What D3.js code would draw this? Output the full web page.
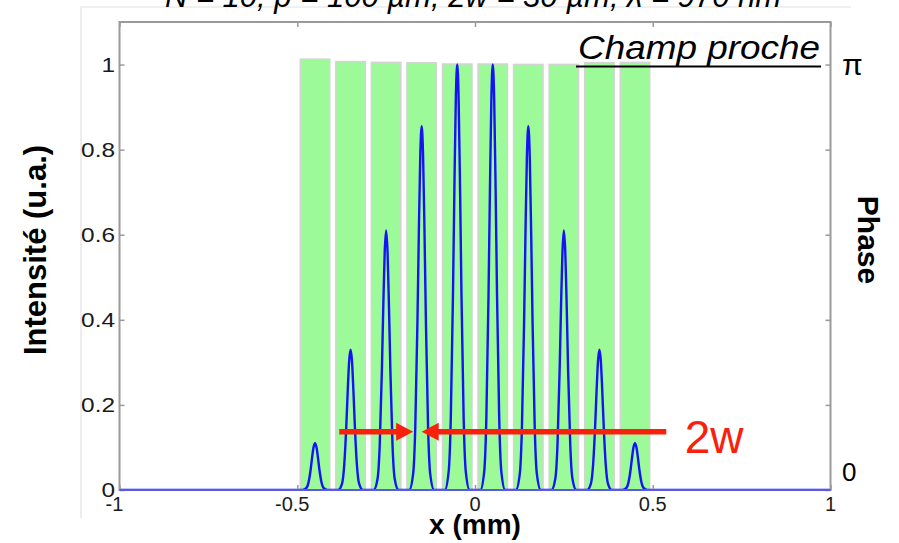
<!DOCTYPE html>
<html>
<head>
<meta charset="utf-8">
<script src="https://cdn.jsdelivr.net/npm/d3@7"></script>
<style>
  html, body { margin: 0; padding: 0; background: #fff; }
  svg { display: block; }
  text { font-family: "Liberation Sans", Arial, sans-serif; }
</style>
</head>
<body>
<svg id="chart" width="899" height="543"></svg>
<script>
// ---------- data ----------
const titleText = "N = 10, p = 100 µm, 2w = 30 µm, λ = 970 nm";
const xTicks = [-1, -0.5, 0, 0.5, 1];
const xTickLabels = ["-1", "-0.5", "0", "0.5", "1"];
const yTicks = [0, 0.2, 0.4, 0.6, 0.8, 1];
const yTickLabels = ["0", "0.2", "0.4", "0.6", "0.8", "1"];
const phaseTicks = [0, Math.PI];
const phaseTickLabels = ["0", "π"];

// phase mask bars (slit centres in mm, phase in units of π)
const barCenters = [-0.45, -0.35, -0.25, -0.15, -0.05, 0.05, 0.15, 0.25, 0.35, 0.45];
const barWidth = 0.083;
const barPhase = [1.012, 1.006, 1.004, 1.003, 1.0, 1.0, 0.999, 0.999, 1.003, 1.004];

// intensity curve (x in mm, intensity in a.u.)
const intensityX = [
  -1,
  -0.485,-0.474,-0.468,-0.462,-0.458,-0.454,-0.45,-0.446,-0.442,-0.438,-0.432,-0.426,-0.415,
  -0.385,-0.374,-0.368,-0.362,-0.358,-0.354,-0.35,-0.346,-0.342,-0.338,-0.332,-0.326,-0.315,
  -0.285,-0.274,-0.268,-0.262,-0.258,-0.254,-0.25,-0.246,-0.242,-0.238,-0.232,-0.226,-0.215,
  -0.185,-0.174,-0.168,-0.162,-0.158,-0.154,-0.15,-0.146,-0.142,-0.138,-0.132,-0.126,-0.115,
  -0.085,-0.074,-0.068,-0.062,-0.058,-0.054,-0.05,-0.046,-0.042,-0.038,-0.032,-0.026,-0.015,
  0.015,0.026,0.032,0.038,0.042,0.046,0.05,0.054,0.058,0.062,0.068,0.074,0.085,
  0.115,0.126,0.132,0.138,0.142,0.146,0.15,0.154,0.158,0.162,0.168,0.174,0.185,
  0.215,0.226,0.232,0.238,0.242,0.246,0.25,0.254,0.258,0.262,0.268,0.274,0.285,
  0.315,0.326,0.332,0.338,0.342,0.346,0.35,0.354,0.358,0.362,0.368,0.374,0.385,
  0.415,0.426,0.432,0.438,0.442,0.446,0.45,0.454,0.458,0.462,0.468,0.474,0.485,
  1
];
const intensityY = [
  0,
  0,0.005,0.019,0.050,0.078,0.101,0.11,0.101,0.078,0.050,0.019,0.005,0,
  0,0.015,0.057,0.151,0.233,0.303,0.33,0.303,0.233,0.151,0.057,0.015,0,
  0,0.027,0.105,0.279,0.431,0.559,0.61,0.559,0.431,0.279,0.105,0.027,0,
  0,0.038,0.147,0.391,0.604,0.784,0.855,0.784,0.604,0.391,0.147,0.038,0,
  0,0.044,0.172,0.457,0.706,0.917,1.0,0.917,0.706,0.457,0.172,0.044,0,
  0,0.044,0.172,0.457,0.706,0.917,1.0,0.917,0.706,0.457,0.172,0.044,0,
  0,0.038,0.147,0.391,0.604,0.784,0.855,0.784,0.604,0.391,0.147,0.038,0,
  0,0.027,0.105,0.279,0.431,0.559,0.61,0.559,0.431,0.279,0.105,0.027,0,
  0,0.015,0.057,0.151,0.233,0.303,0.33,0.303,0.233,0.151,0.057,0.015,0,
  0,0.005,0.019,0.050,0.078,0.101,0.11,0.101,0.078,0.050,0.019,0.005,0,
  0
];

// 2w annotation arrows (data coords: x in mm, y in intensity)
const arrowLeftFrom = [-0.382, 0.137], arrowLeftTo = [-0.174, 0.137];
const arrowRightFrom = [0.538, 0.137], arrowRightTo = [-0.150, 0.137];
const annotLabel = "2w";
const annotPos = [0.59, 0.087];

// ---------- layout ----------
const svg = d3.select("#chart");
const L = 119.5, R = 830.5, T = 22, B = 490;
const x = d3.scaleLinear().domain([-1, 1]).range([L, R]);
const y = d3.scaleLinear().domain([0, 1.1]).range([B, T]);
const yPhase = d3.scaleLinear().domain([0, Math.PI]).range([472, 64]);

const axisColor = "#9a9a9a";
const textColor = "#1a1a1a";

// outer frame (light grey)
svg.append("path")
  .attr("d", `M81,518 L81,7 L851,7`)
  .attr("fill", "none").attr("stroke", "#e2e2e2").attr("stroke-width", 1.2);

// title (clipped at top)
svg.append("text")
  .attr("x", 473).attr("y", 7)
  .attr("text-anchor", "middle")
  .attr("font-size", 31).attr("font-style", "italic")
  .attr("fill", "#000")
  .text(titleText);

// clip
svg.append("clipPath").attr("id", "plotclip")
  .append("rect").attr("x", L).attr("y", T - 6).attr("width", R - L).attr("height", B - T + 6);

const plot = svg.append("g").attr("clip-path", "url(#plotclip)");

// bars
plot.selectAll("rect.bar")
  .data(barCenters.map((c, i) => ({ c, p: barPhase[i] * Math.PI })))
  .join("rect")
  .attr("class", "bar")
  .attr("x", d => x(d.c - barWidth / 2))
  .attr("width", d => x(d.c + barWidth / 2) - x(d.c - barWidth / 2))
  .attr("y", d => yPhase(d.p))
  .attr("height", d => B - yPhase(d.p))
  .attr("fill", "#9dfa98")
  .attr("stroke", "#d4d4d4")
  .attr("stroke-width", 1.5);

// intensity line
const pts = intensityX.map((v, i) => [v, intensityY[i]]);
plot.append("path")
  .datum(pts)
  .attr("fill", "none")
  .attr("stroke", "#1414f5")
  .attr("stroke-width", 2.4)
  .attr("stroke-linejoin", "round")
  .attr("d", d3.line().x(d => x(d[0])).y(d => y(d[1])).curve(d3.curveMonotoneX));

// axes box
svg.append("rect")
  .attr("x", L).attr("y", T).attr("width", R - L).attr("height", B - T)
  .attr("fill", "none").attr("stroke", axisColor).attr("stroke-width", 2);

// inward ticks via d3 axes
const tickLen = 5;
const axL = svg.append("g").attr("transform", `translate(${L},0)`)
  .call(d3.axisRight(y).tickValues(yTicks).tickSize(tickLen).tickFormat(""));
const axR = svg.append("g").attr("transform", `translate(${R},0)`)
  .call(d3.axisLeft(y).tickValues(yTicks).tickSize(tickLen).tickFormat(""));
const axB = svg.append("g").attr("transform", `translate(0,${B})`)
  .call(d3.axisTop(x).tickValues(xTicks).tickSize(tickLen).tickFormat(""));
const axT = svg.append("g").attr("transform", `translate(0,${T})`)
  .call(d3.axisBottom(x).tickValues(xTicks).tickSize(tickLen).tickFormat(""));
[axL, axR, axB, axT].forEach(a => {
  a.select(".domain").remove();
  a.selectAll("line").attr("stroke", axisColor).attr("stroke-width", 1.5);
});

// baseline of the curve over the axis
svg.append("line")
  .attr("x1", L).attr("x2", R).attr("y1", y(0)).attr("y2", y(0))
  .attr("stroke", "#5a5ae0").attr("stroke-width", 1.8);

// y tick labels (slightly wide, as in the reference)
const yLab = svg.append("g").selectAll("text")
  .data(yTicks)
  .join("text")
  .attr("x", 115)
  .attr("y", d => y(d))
  .attr("dy", "0.36em")
  .attr("text-anchor", "end")
  .attr("font-size", 20)
  .attr("fill", textColor)
  .text((d, i) => yTickLabels[i]);
yLab.each(function () {
  const w = this.getComputedTextLength();
  d3.select(this).attr("textLength", w * 1.22).attr("lengthAdjust", "spacingAndGlyphs");
});

// x tick labels
svg.append("g").selectAll("text")
  .data(xTicks)
  .join("text")
  .attr("x", d => x(d) - (d < 0 ? 5 : 0))
  .attr("y", 511)
  .attr("text-anchor", "middle")
  .attr("font-size", 20)
  .attr("fill", textColor)
  .text((d, i) => xTickLabels[i]);

// phase tick labels (right)
svg.append("g").selectAll("text")
  .data(phaseTicks)
  .join("text")
  .attr("x", 842)
  .attr("y", d => yPhase(d))
  .attr("dy", "0.36em")
  .attr("text-anchor", "start")
  .attr("font-size", (d, i) => i === 1 ? 30 : 26)
  .attr("fill", "#000")
  .text((d, i) => phaseTickLabels[i]);

// axis titles
svg.append("text")
  .attr("transform", `translate(46,250) rotate(-90)`)
  .attr("text-anchor", "middle")
  .attr("font-size", 31).attr("font-weight", "bold")
  .attr("fill", "#000")
  .text("Intensité (u.a.)");

svg.append("text")
  .attr("transform", `translate(858,240) rotate(90)`)
  .attr("text-anchor", "middle")
  .attr("font-size", 30).attr("font-weight", "bold")
  .attr("fill", "#000")
  .text("Phase");

svg.append("text")
  .attr("x", 475).attr("y", 534)
  .attr("text-anchor", "middle")
  .attr("font-size", 28).attr("font-weight", "bold")
  .attr("fill", "#000")
  .text("x (mm)");

// Champ proche label
svg.append("text")
  .attr("x", 578).attr("y", 59)
  .attr("text-anchor", "start")
  .attr("font-size", 34).attr("font-style", "italic")
  .attr("textLength", 242).attr("lengthAdjust", "spacingAndGlyphs")
  .attr("fill", "#000")
  .text("Champ proche");
svg.append("line")
  .attr("x1", 576).attr("x2", 821).attr("y1", 66.5).attr("y2", 66.5)
  .attr("stroke", "#000").attr("stroke-width", 2.2);

// red arrows
const red = "#f8220c";
function arrow(from, to) {
  const x1 = x(from[0]), y1 = y(from[1]), x2 = x(to[0]), y2 = y(to[1]);
  const dir = Math.sign(x2 - x1);
  const headLen = 17, headHalf = 9;
  svg.append("line")
    .attr("x1", x1).attr("y1", y1).attr("x2", x2 - dir * headLen + dir * 2).attr("y2", y2)
    .attr("stroke", red).attr("stroke-width", 5.5);
  svg.append("path")
    .attr("d", `M${x2},${y2} L${x2 - dir * headLen},${y2 - headHalf} L${x2 - dir * headLen},${y2 + headHalf} Z`)
    .attr("fill", red);
}
arrow(arrowLeftFrom, arrowLeftTo);
arrow(arrowRightFrom, arrowRightTo);

svg.append("text")
  .attr("x", x(annotPos[0])).attr("y", y(annotPos[1]))
  .attr("font-size", 46)
  .attr("fill", red)
  .text(annotLabel);
</script>
</body>
</html>
